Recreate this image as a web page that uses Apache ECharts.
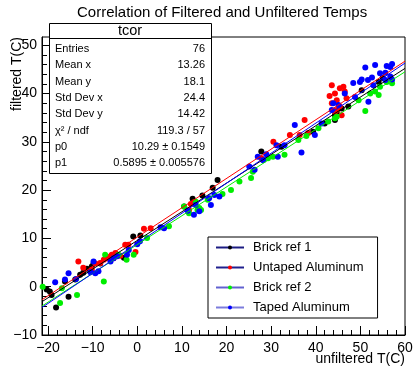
<!DOCTYPE html>
<html lang="en">

<head>
  <meta charset="UTF-8">
  <title>tcor</title>
  <style>
    html,
    body {
      margin: 0;
      padding: 0;
      background: #fff;
    }

    #main {
      width: 414px;
      height: 366px;
    }
  </style>
</head>

<body>
  <div id="main"></div>
  <script src="https://cdn.jsdelivr.net/npm/echarts@6/dist/echarts.min.js"></script>
  <script>
    const chart = echarts.init(document.getElementById('main'));
    const font = '"Liberation Sans", Arial, Helvetica, sans-serif';

    // series names and colours
    const seriesNames = ['Brick ref 1', 'Untaped Aluminum', 'Brick ref 2', 'Taped Aluminum'];
    const markerColors = ['#000000', '#ff0000', '#00ee00', '#0000ff'];
    const legendLineColors = ['#1c1c82', '#20208e', '#6262d0', '#7c7cdc'];

    // points [unfiltered, filtered]
    const brickRef1 = [
      [-19.6, -1.0], [-20.3, -0.6], [-19.2, -1.7], [-18.2, -4.3], [-15.4, -2.1], [-16.2, 1.1],
      [-13.9, 1.5], [-12.8, 2.5], [-12.1, 2.9], [-11.3, 3.7], [-10.2, 4.2], [-9.8, 4.8],
      [-8.3, 4.8], [-3.0, 6.0], [-0.9, 10.4], [0.7, 10.6], [10.5, 16.6], [12.4, 18.2],
      [14.6, 18.9], [16.9, 20.5], [18.0, 22.1], [27.8, 28.0], [32.3, 29.0], [39.4, 32.1],
      [42.0, 33.8], [44.3, 35.5], [44.3, 34.5], [44.7, 36.2], [45.8, 36.9], [47.3, 37.3],
      [50.3, 40.7], [54.1, 42.4], [55.0, 43.2]
    ];
    const untapedAl = [
      [-13.2, 5.2], [-12.1, 3.9], [-10.2, 3.5], [-9.4, 4.8], [-8.3, 4.9], [-7.5, 5.6],
      [-6.8, 5.9], [-6.0, 6.3], [-5.7, 6.6], [-5.3, 5.9], [-4.9, 7.0], [-3.8, 6.4],
      [-2.7, 8.7], [-2.0, 8.7], [-0.4, 7.2], [1.5, 12.0], [3.0, 12.1], [11.6, 15.9],
      [12.0, 17.1], [12.7, 17.5], [27.8, 26.6], [30.5, 30.0], [34.2, 31.4], [36.4, 31.4],
      [37.5, 34.5], [38.3, 31.8], [43.1, 39.5], [43.6, 41.7], [43.6, 38.0], [44.3, 40.0],
      [44.3, 36.2], [44.7, 38.6], [44.7, 36.6], [45.4, 41.1], [45.4, 37.3], [45.8, 35.5],
      [46.2, 41.4], [46.5, 40.4], [46.9, 39.0]
    ];
    const brickRef2 = [
      [-21.2, 0.0], [-17.3, -3.4], [-16.9, -0.3], [-13.5, -1.7], [-7.5, 1.1], [-7.2, 6.6],
      [-4.2, 6.6], [-2.4, 5.6], [-0.8, 6.6], [2.2, 10.1], [7.1, 12.5], [10.5, 16.6],
      [11.6, 15.2], [13.1, 17.6], [13.5, 15.9], [13.9, 16.3], [14.3, 15.9], [15.8, 18.0],
      [19.1, 19.2], [21.0, 20.0], [22.9, 21.8], [25.5, 22.5], [25.9, 23.8], [29.3, 26.6],
      [30.4, 26.9], [33.0, 27.3], [36.1, 30.4], [37.9, 31.2], [40.6, 32.8], [42.8, 34.2],
      [44.3, 34.9], [44.7, 35.2], [49.6, 38.6], [51.1, 36.4], [52.2, 40.0], [53.3, 40.4],
      [54.1, 39.7], [54.4, 41.4], [55.9, 42.4], [57.1, 42.1]
    ];
    const tapedAl = [
      [-18.4, 0.9], [-16.2, 1.5], [-15.4, 2.8], [-13.7, 1.6], [-10.5, 3.0], [-9.8, 5.2],
      [-9.4, 2.8], [-8.7, 3.2], [-6.0, 5.2], [-5.3, 5.9], [-4.5, 6.3], [-2.3, 6.6],
      [-1.9, 7.6], [0.0, 8.8], [0.6, 9.4], [5.2, 12.3], [6.0, 12.1], [11.3, 15.7],
      [12.7, 14.9], [13.1, 16.9], [13.9, 15.6], [16.1, 18.3], [16.5, 16.9], [17.3, 19.0],
      [18.4, 18.7], [25.1, 24.9], [26.3, 24.2], [27.0, 26.9], [28.2, 26.2], [28.9, 27.4],
      [31.2, 29.3], [31.5, 26.9], [33.0, 29.3], [35.3, 33.5], [36.8, 27.8], [39.8, 31.4],
      [41.3, 33.8], [43.6, 36.6], [43.9, 38.0], [45.1, 37.6], [46.5, 40.0], [48.4, 42.2],
      [48.8, 39.3], [49.9, 42.4], [50.3, 42.9], [51.1, 45.4], [51.7, 42.8], [51.8, 38.3],
      [52.6, 43.3], [52.9, 41.7], [53.3, 45.9], [54.4, 44.2], [55.6, 44.3], [55.6, 42.8],
      [55.9, 45.7], [56.7, 45.5], [56.7, 43.5], [57.1, 46.1], [57.1, 42.9]
    ];
    const pointSets = [brickRef1, untapedAl, brickRef2, tapedAl];

    // fit lines, end points
    const fitBrick1 = [[-21.35, -3.1], [60, 45.2]];
    const fitUntaped = [[-21.35, -2.7], [60, 46.7]];
    const fitBrick2 = [[-21.35, -4.0], [60, 44.5]];
    const fitTaped = [[-21.35, -4.3], [60, 46.3]];
    const fitSets = [fitBrick1, fitUntaped, fitBrick2, fitTaped];

    // axes
    const xMin = -21.35, xMax = 60;
    const yMin = -10, yMax = 51.7;
    const xMajorTicks = [-20, -10, 0, 10, 20, 30, 40, 50, 60];
    const yMajorTicks = [-10, 0, 10, 20, 30, 40, 50];
    const xMinorTicks = [];
    for (let v = -20; v <= 60; v += 2) xMinorTicks.push(v);
    const yMinorTicks = [];
    for (let v = -10; v <= 50; v += 2) yMinorTicks.push(v);

    // stats box
    const statsLabels = ['Entries', 'Mean x', 'Mean y', 'Std Dev x', 'Std Dev y', 'χ² / ndf', 'p0', 'p1'];
    const statsValues = ['76', '13.26', '18.1', '24.4', '14.42', '119.3 / 57', '10.29 ± 0.1549', '0.5895 ± 0.005576'];

    const minus = v => String(v).replace('-', '\u2212');

    function majorAxis(min, max, ticks) {
      return {
        type: 'value', min, max,
        axisLine: { onZero: false, lineStyle: { color: '#000', width: 1 } },
        axisTick: { inside: true, length: 9, customValues: ticks, lineStyle: { color: '#000' } },
        axisLabel: { customValues: ticks, formatter: minus, fontSize: 14, color: '#000', fontFamily: font },
        splitLine: { show: false }
      };
    }
    function minorAxis(min, max, ticks, position) {
      return {
        type: 'value', min, max, position,
        axisLine: { show: false, onZero: false },
        axisTick: { inside: true, length: 5, customValues: ticks, lineStyle: { color: '#000' } },
        axisLabel: { show: false },
        splitLine: { show: false }
      };
    }

    const xMain = majorAxis(xMin, xMax, xMajorTicks);
    xMain.position = 'bottom';
    xMain.axisLabel.margin = 6;
    const yMain = majorAxis(yMin, yMax, yMajorTicks);
    yMain.position = 'left';
    yMain.axisLabel.margin = 5;

    const series = [];
    fitSets.forEach((pts, i) => {
      series.push({
        name: 'fit ' + seriesNames[i], type: 'line', data: pts,
        showSymbol: false, silent: true, z: 3,
        lineStyle: { color: markerColors[i], width: 1 }
      });
    });
    pointSets.forEach((pts, i) => {
      series.push({
        name: seriesNames[i], type: 'line', data: pts,
        symbol: 'circle', symbolSize: 6, showSymbol: true, silent: true, z: 2,
        itemStyle: { color: markerColors[i] },
        lineStyle: { width: 0, opacity: 0 }
      });
    });

    const statsGraphic = [
      {
        type: 'rect', z: 100,
        shape: { x: 49.5, y: 23.5, width: 162, height: 150 },
        style: { fill: '#fff', stroke: '#000', lineWidth: 1 }
      },
      {
        type: 'line', z: 101,
        shape: { x1: 49.5, y1: 38.5, x2: 211.5, y2: 38.5 },
        style: { stroke: '#000', lineWidth: 1 }
      },
      {
        type: 'text', z: 101, x: 130, y: 31,
        style: { text: 'tcor', fontSize: 14.5, fontFamily: font, fill: '#000', align: 'center', verticalAlign: 'middle' }
      }
    ];
    statsLabels.forEach((lab, i) => {
      const y = 49 + i * 16.3;
      statsGraphic.push({
        type: 'text', z: 101, x: 55, y,
        style: { text: lab, fontSize: 11, fontFamily: font, fill: '#000', align: 'left', verticalAlign: 'middle' }
      });
      statsGraphic.push({
        type: 'text', z: 101, x: 205, y,
        style: { text: statsValues[i], fontSize: 11, fontFamily: font, fill: '#000', align: 'right', verticalAlign: 'middle' }
      });
    });

    const option = {
      animation: false,
      title: {
        text: 'Correlation of Filtered and Unfiltered Temps',
        left: 77, top: 0, padding: [5, 0],
        textStyle: { fontSize: 15, fontWeight: 'normal', color: '#000', fontFamily: font }
      },
      grid: {
        left: 42, right: 9, top: 37, bottom: 31,
        show: true, borderColor: '#000', borderWidth: 1, backgroundColor: 'transparent',
        outerBoundsMode: 'none'
      },
      xAxis: [xMain, minorAxis(xMin, xMax, xMinorTicks, 'bottom')],
      yAxis: [yMain, minorAxis(yMin, yMax, yMinorTicks, 'left')],
      legend: {
        orient: 'vertical', left: 208, top: 237,
        padding: [4, 14, 4, 7],
        itemWidth: 28, itemHeight: 5, itemGap: 7,
        backgroundColor: '#fff', borderColor: '#000', borderWidth: 1,
        selectedMode: false,
        textStyle: { fontSize: 13, color: '#000', fontFamily: font, padding: [0, 0, 0, 4] },
        data: seriesNames.map((name, i) => ({
          name,
          itemStyle: { color: markerColors[i] },
          lineStyle: { color: legendLineColors[i], width: 2, opacity: 1 }
        }))
      },
      graphic: [
        ...statsGraphic,
        {
          type: 'text', x: 17, y: 37, rotation: Math.PI / 2,
          style: { text: 'filtered T(C)', fontSize: 14, fontFamily: font, fill: '#000', align: 'right', verticalAlign: 'middle' }
        },
        {
          type: 'text', x: 405, y: 359,
          style: { text: 'unfiltered T(C)', fontSize: 14, fontFamily: font, fill: '#000', align: 'right', verticalAlign: 'middle' }
        }
      ],
      series
    };

    chart.setOption(option);
  </script>
</body>

</html>
